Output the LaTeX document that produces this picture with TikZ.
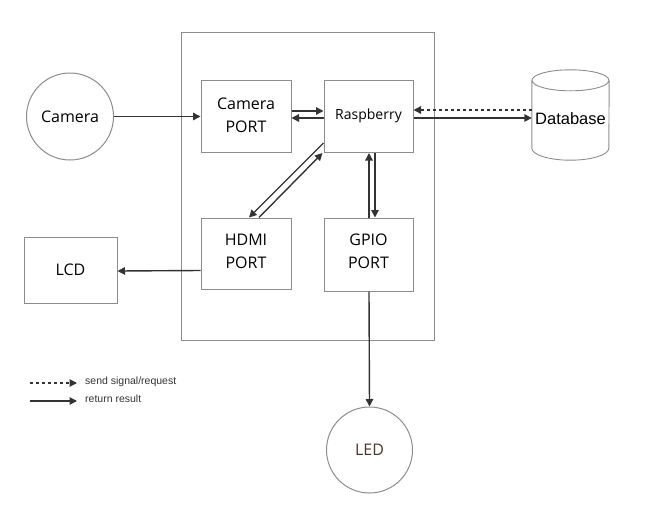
\documentclass[tikz,border=0pt]{standalone}
\usepackage{fontspec}
\setmainfont{Open Sans}
\newfontfamily\arialf{Liberation Sans}
\usetikzlibrary{arrows.meta,calc}
\definecolor{boxgray}{HTML}{8C8C8C}
\definecolor{arrowdark}{HTML}{333333}
\definecolor{ledtext}{HTML}{4A3328}
\begin{document}
\begin{tikzpicture}[x=1pt,y=-1pt,
  box/.style={draw=boxgray,line width=1pt,rectangle,inner sep=0pt,align=center,font=\fontsize{16}{23}\selectfont},
  circ/.style={draw=boxgray,line width=1pt,circle,inner sep=0pt,minimum size=87pt,font=\fontsize{16}{19}\selectfont},
  conn/.style={draw=arrowdark,line width=1.4pt,-{Triangle[length=7.5pt,width=7.5pt]}},
  dconn/.style={conn,dash pattern=on 3pt off 3pt},
  legtext/.style={anchor=west,inner sep=0pt,font=\arialf\fontsize{10.5}{12}\selectfont,text=arrowdark}
]
\useasboundingbox (0,0) rectangle (651,520);
% outer frame
\node[draw=boxgray,line width=1pt,rectangle,minimum width=253pt,minimum height=308pt,inner sep=0pt] (frame) at (307.5,186) {};
% nodes
\node[circ] (camera) at (70,116.5) {Camera};
\node[box,minimum width=90pt,minimum height=72pt] (cport) at (246,116.5) {};
\node[align=center,inner sep=0pt,font=\fontsize{16}{23}\selectfont] (cportt) at (246,115.5) {Camera\\PORT};
\node[box,minimum width=89pt,minimum height=72pt,font=\fontsize{14}{16}\selectfont] (rasp) at (368.5,116.5) {\raisebox{4pt}{Raspberry}};
\node[box,minimum width=90pt,minimum height=71pt] (hdmi) at (246,253.5) {};
\node[align=center,inner sep=0pt,font=\fontsize{16}{23}\selectfont] (hdmit) at (246,251.5) {HDMI\\PORT};
\node[box,minimum width=89pt,minimum height=73pt] (gpio) at (368.5,254.5) {};
\node[align=center,inner sep=0pt,font=\fontsize{16}{23}\selectfont] (gpiot) at (368.5,251.5) {GPIO\\PORT};
\node[box,minimum width=93pt,minimum height=66pt] (lcd) at (70.5,270) {LCD};
\node[circ,minimum size=86pt,text=ledtext] (led) at (369.5,450) {LED};
% database
\node[rectangle,minimum width=77pt,minimum height=90pt,inner sep=0pt] (db) at (570.5,115) {};
\node[inner sep=0pt,font=\arialf\fontsize{16.5}{19}\selectfont] (dbt) at (570.5,118.5) {Database};
\draw[draw=boxgray,line width=0.9pt]
  ($(db.north west)+(0,10.5)$) -- ($(db.south west)+(0,-12)$)
  arc[start angle=180,end angle=360,x radius=38.5pt,y radius=12pt]
  -- ($(db.north east)+(0,10.5)$);
\draw[draw=boxgray,line width=0.9pt] ($(db.north)+(0,10.5)$) ellipse[x radius=38.5pt,y radius=10.5pt];
% connectors
\draw[conn] (camera.east) -- (cport.west);
\draw[conn] ([yshift=5.5pt]cport.east) -- ([yshift=5.5pt]rasp.west);
\draw[conn] ([yshift=-1.5pt]rasp.west) -- ([yshift=-1.5pt]cport.east);
\draw[conn] ([yshift=10pt]rasp.south west) -- ([xshift=3pt]hdmi.north);
\draw[conn] ([xshift=13pt]hdmi.north) -- ([xshift=-1pt]rasp.south west);
\draw[conn] ([xshift=0.5pt]gpio.north) -- ([xshift=0.5pt]rasp.south);
\draw[conn] ([xshift=6.5pt]rasp.south) -- ([xshift=6.5pt]gpio.north);
\draw[conn] (rasp.east |- 0,118) -- (db.west |- 0,118);
\draw[dconn] (db.west |- 0,110) -- (rasp.east |- 0,110);
\draw[conn] ([yshift=-17pt]hdmi.west) -- ([yshift=-1pt]lcd.east);
\draw[conn] ([xshift=0.5pt]gpio.south) -- (led.north);
% legend
\coordinate (l1a) at (30,383);
\coordinate (l1b) at (77,383);
\coordinate (l2a) at (30,401);
\coordinate (l2b) at (77,401);
\draw[dconn,line width=1.1pt] (l1a) -- (l1b);
\draw[conn,line width=1.1pt] (l2a) -- (l2b);
\node[legtext] (leg1) at (85,382) {send signal/request};
\node[legtext] (leg2) at (85,399) {return result};
\end{tikzpicture}
\end{document}
